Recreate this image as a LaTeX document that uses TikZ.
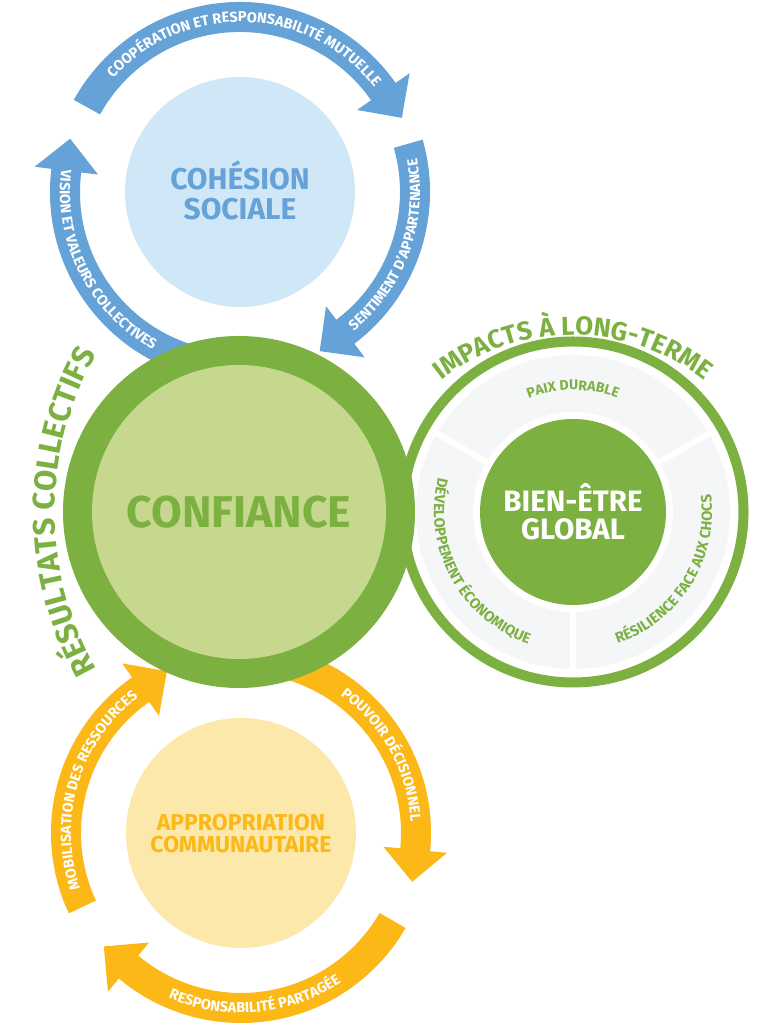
\documentclass[tikz,border=0pt]{standalone}
\usepackage{fontspec}
\setmainfont{Fira Sans}
\usetikzlibrary{decorations.text,calc}
\definecolor{cblue}{HTML}{64A2D8}
\definecolor{cbluelight}{HTML}{D0E7F8}
\definecolor{cgreen}{HTML}{7CB142}
\definecolor{cgreenlight}{HTML}{C5D88E}
\definecolor{corange}{HTML}{FBB817}
\definecolor{corangelight}{HTML}{FCE8AA}
\definecolor{cgrey}{HTML}{F4F6F8}
% #1 colour, #2 start angle, #3 angle of the head base (clockwise band)
\newcommand{\bandarrow}[3]{%
  \fill[#1] (#2:190) arc[start angle=#2, end angle=#3, radius=190]
    -- (#3:207) -- ({#3-10.4}:178) -- (#3:143) -- (#3:160)
    arc[start angle=#3, end angle=#2, radius=160] -- cycle;}
% #1 size, #2 colour, #3 text, #4 start, #5 end, #6 radius
\newcommand{\arctext}[6]{%
  \path[decorate, decoration={text along path, text align=center,
    text color=#2, text={|\fontsize{#1}{#1}\selectfont\bfseries|#3}}]
    (#4:#6) arc[start angle=#4, end angle=#5, radius=#6];}
\begin{document}
\begin{tikzpicture}[x=1pt,y=1pt,
  disc/.style={circle, inner sep=0pt, outer sep=0pt, align=center},
  label/.style={inner sep=0pt, align=center}]
\useasboundingbox (0,0) rectangle (761,1024);
\fill[white] (0,0) rectangle (761,1024);

% ---------- Cohesion sociale cycle ----------
\node[disc, fill=cbluelight, minimum size=230] (coh) at (240,832) {};
\node[label, text=cblue, font=\bfseries\fontsize{30}{30}\selectfont]
  (cohtxt) at ([yshift=2]coh.center) {COHÉSION\\SOCIALE};
\begin{scope}[shift={(coh.center)}]
  \bandarrow{cblue}{151}{35}
  \bandarrow{cblue}{16}{-53}
  \bandarrow{cblue}{260}{173}
  \arctext{14.5}{white}{COOPÉRATION ET RESPONSABILITÉ MUTUELLE}{150}{26}{170}
  \arctext{14.5}{white}{SENTIMENT D’APPARTENANCE}{-75}{35}{180}
  \arctext{14.5}{white}{VISION ET VALEURS COLLECTIVES}{155}{259}{180}
\end{scope}

% ---------- Appropriation communautaire cycle ----------
\node[disc, fill=corangelight, minimum size=230] (app) at (241,191) {};
\node[label, text=corange, font=\bfseries\fontsize{23}{22}\selectfont]
  (apptxt) at ([yshift=-1]app.center) {APPROPRIATION\\COMMUNAUTAIRE};
\begin{scope}[shift={(app.center)}]
  \bandarrow{corange}{75}{-5.5}
  \bandarrow{corange}{-30}{-130}
  \bandarrow{corange}{205}{125}
  \arctext{14.5}{white}{POUVOIR DÉCISIONNEL}{75}{-17}{170}
  \arctext{14.5}{white}{RESPONSABILITÉ PARTAGÉE}{-140}{-30}{180}
  \arctext{14.5}{white}{MOBILISATION DES RESSOURCES}{215}{111}{170}
\end{scope}

% ---------- Impacts a long terme ----------
\node[disc, draw=cgreen, line width=10, minimum size=341] (imp) at (573,512) {};
\fill[cgrey, even odd rule] (imp.center) circle[radius=157] (imp.center) circle[radius=100];
\foreach \a in {30,150,270}
  \draw[white, line width=6] ($(imp.center)+(\a:95)$) -- ($(imp.center)+(\a:162)$);
\node[disc, fill=cgreen, minimum size=186] (bien) at (imp.center) {};
\node[label, text=white, font=\bfseries\fontsize{29.5}{28}\selectfont]
  (bientxt) at (bien.center) {BIEN-ÊTRE\\GLOBAL};
\begin{scope}[shift={(imp.center)}]
  \arctext{14}{cgreen}{PAIX DURABLE}{135}{45}{122}
  \arctext{14.8}{cgreen}{DÉVELOPPEMENT ÉCONOMIQUE}{145}{272}{139}
  \arctext{14.8}{cgreen}{RÉSILIENCE FACE AUX CHOCS}{-95}{31}{139}
\end{scope}
\begin{scope}[shift={(573,476)}]
  \arctext{26}{cgreen}{IMPACTS À LONG-TERME}{140}{40}{213}
\end{scope}

% ---------- Confiance ----------
\node[disc, fill=cgreen, minimum size=352] (conf) at (239,512) {};
\node[disc, fill=cgreenlight, minimum size=294, text=cgreen,
  font=\bfseries\fontsize{44.5}{44}\selectfont] (confin) at (conf.center) {CONFIANCE};

% ---------- Resultats collectifs ----------
\begin{scope}[shift={(376,512)}]
  \arctext{31}{cgreen}{RÉSULTATS COLLECTIFS}{215}{145}{321}
\end{scope}
\end{tikzpicture}
\end{document}
